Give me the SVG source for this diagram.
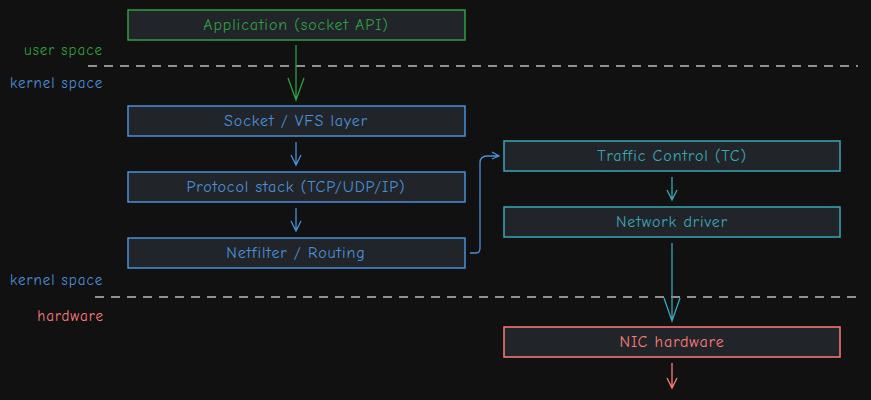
<svg xmlns="http://www.w3.org/2000/svg" width="871" height="400" viewBox="0 0 871 400">
<style>
.box{fill:#212529;stroke-width:1.5}
text{font-family:"Comic Neue","Liberation Sans",sans-serif;font-size:16px;letter-spacing:0.9px;text-anchor:middle;dominant-baseline:central}
.g{stroke:#2f9e44;fill:#2f9e44}
.b{stroke:#4a90d9;fill:#4a90d9}
.c{stroke:#3aa6b9;fill:#3aa6b9}
.r{stroke:#ff7b7b;fill:#ff7b7b}
.ln{fill:none;stroke-width:1.3}
.dash{stroke:#bbbbbb;stroke-width:1.5;stroke-dasharray:9 7;fill:none}
.lbl{text-anchor:start;stroke:none}
.sm{font-size:15px;letter-spacing:1px}
</style>
<rect width="871" height="400" fill="#111111"/>
<g id="dividers">
<line class="dash" x1="88" y1="66" x2="858" y2="66"/>
<line class="dash" x1="95" y1="297" x2="862" y2="297"/>
</g>
<g id="labels">
<text x="103" y="50" class="sm" style="text-anchor:end;fill:#2f9e44">user space</text>
<text x="10" y="83" class="lbl sm" style="fill:#4a90d9">kernel space</text>
<text x="10" y="280" class="lbl sm" style="fill:#4a90d9">kernel space</text>
<text x="104" y="316" class="sm" style="text-anchor:end;fill:#ff7b7b">hardware</text>
</g>
<g id="app"><rect class="box g" x="128" y="10" width="337" height="30" style="fill:#212529"/><text x="296" y="25" style="fill:#2f9e44">Application (socket API)</text></g>
<g id="socket"><rect class="box b" x="128" y="106" width="337" height="30" style="fill:#212529"/><text x="296" y="121" style="fill:#4a90d9">Socket / VFS layer</text></g>
<g id="protocol"><rect class="box b" x="128" y="172" width="337" height="30" style="fill:#212529"/><text x="296" y="187" style="fill:#4a90d9">Protocol stack (TCP/UDP/IP)</text></g>
<g id="netfilter"><rect class="box b" x="128" y="238" width="337" height="30" style="fill:#212529"/><text x="296" y="253" style="fill:#4a90d9">Netfilter / Routing</text></g>
<g id="tc"><rect class="box c" x="504" y="141" width="336" height="30" style="fill:#212529"/><text x="672" y="156" style="fill:#3aa6b9">Traffic Control (TC)</text></g>
<g id="driver"><rect class="box c" x="504" y="207" width="336" height="30" style="fill:#212529"/><text x="672" y="222" style="fill:#3aa6b9">Network driver</text></g>
<g id="nic"><rect class="box r" x="504" y="327" width="336" height="30" style="fill:#212529"/><text x="672" y="342" style="fill:#ff7b7b">NIC hardware</text></g>
<g id="connectors">
<path class="ln g" d="M296 45V100M288 78L296 100L304 78"/>
<path class="ln b" d="M296 142V165M291 155L296 165L301 155"/>
<path class="ln b" d="M296 208V231M291 221L296 231L301 221"/>
<path class="ln b" d="M470 253H476Q480 253 480 248V163Q480 156 487 156H499M492 152L499 156L492 159"/>
<path class="ln c" d="M672 177V200M667 190L672 200L677 190"/>
<path class="ln c" d="M672 243V321M664 298L672 321L680 298"/>
<path class="ln r" d="M672 363V388M667 378L672 388L677 378"/>
</g>
</svg>
